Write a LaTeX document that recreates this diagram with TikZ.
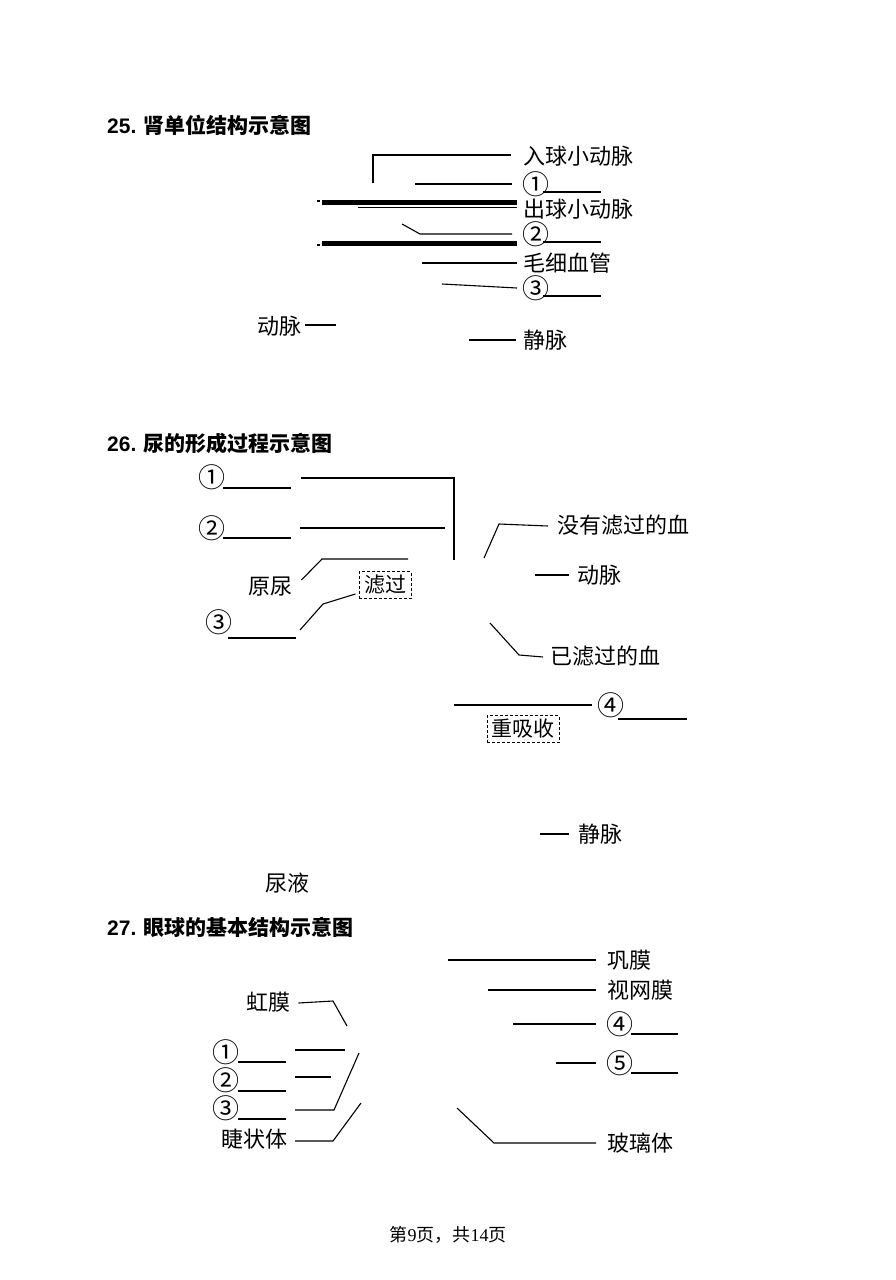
\documentclass[tikz,border=0pt]{standalone}
\usepackage{fontspec}
\setmainfont{Liberation Serif}
\newfontfamily\cjk{Noto Sans CJK SC}
\newfontfamily\hd{Liberation Sans}
\begin{document}
\begin{tikzpicture}[x=1pt,y=-1pt,
  lbl/.style={anchor=west,inner sep=0pt,font=\cjk\fontsize{22}{22}\selectfont},
  dig/.style={anchor=west,inner sep=0pt,font=\cjk\fontsize{27}{27}\selectfont},
  ttl/.style={anchor=west,inner sep=0pt,font=\cjk\bfseries\fontsize{21}{21}\selectfont},
  ln/.style={line width=1.1pt},
  bar/.style={line width=5pt},
  dbox/.style={draw,dashed,dash pattern=on 3pt off 2pt,line width=0.9pt,inner sep=0pt,
    font=\cjk\fontsize{21}{21}\selectfont},
  foot/.style={inner sep=0pt,font=\cjk\fontsize{18}{18}\selectfont}]
\useasboundingbox (0,0) rectangle (895,1280);
\fill[white] (0,0) rectangle (895,1280);

% ---------------- 25 ----------------
\node[ttl] (t25) at (107,125) {{\hd\bfseries 25}{\hd .}\hspace{7pt}肾单位结构示意图};
\node[lbl] (rq) at (523,156) {入球小动脉};
\node[dig] (a1) at (522,184) {①};
\node[lbl] (cq) at (523,209) {出球小动脉};
\node[dig] (a2) at (522,234) {②};
\node[lbl] (mx) at (523,263) {毛细血管};
\node[dig] (a3) at (522,288) {③};
\node[lbl] (dm) at (257,326) {动脉};
\node[lbl] (jm) at (523,340) {静脉};
\coordinate (rqs) at (373,183);
\coordinate (a1s) at (415,184);
\coordinate (cqs) at (358,207.5);
\coordinate (a2s) at (402,224);
\coordinate (a2k) at (420,234);
\coordinate (mxs) at (422,263);
\coordinate (a3s) at (442,284);
\coordinate (jms) at (469,340);
\draw[ln] (rqs) |- ([xshift=-12pt,yshift=1pt]rq.west);
\draw[ln] (a1s) -- ([xshift=-10pt]a1.west);
\draw[ln] (cqs) -- ([xshift=-6pt,yshift=1.5pt]cq.west);
\draw[ln] (a2s) -- (a2k) -- ([xshift=-10pt]a2.west);
\draw[ln] (mxs) -- ([xshift=-6pt]mx.west);
\draw[ln] (a3s) -- ([xshift=-5pt]a3.west);
\draw[ln] ([xshift=4pt,yshift=1pt]dm.east) -- ++(31pt,0);
\draw[ln] (jms) -- ([xshift=-7pt]jm.west);
\draw[ln] ([xshift=-6pt]a1.east |- 0,192) -- ++(58pt,0);
\draw[ln] ([xshift=-6pt]a2.east |- 0,242) -- ++(58pt,0);
\draw[ln] ([xshift=-6pt]a3.east |- 0,296) -- ++(58pt,0);
\draw[bar] (322,202) -- (517,202);
\draw[bar] (322,243) -- (517,243);
\fill (317,199.5) rectangle (320,201.5);
\fill (317,244) rectangle (320,246);

% ---------------- 26 ----------------
\node[ttl] (t26) at (107,443) {{\hd\bfseries 26}{\hd .}\hspace{7pt}尿的形成过程示意图};
\node[dig] (b1) at (198,477) {①};
\node[dig] (b2) at (198,528) {②};
\node[lbl] (yn) at (248,587) {原尿};
\node[dbox,minimum width=52pt,minimum height=27pt] (lg) at (385,585) {滤过};
\node[dig] (b3) at (205,622) {③};
\node[lbl] (mylg) at (557,525) {没有滤过的血};
\node[lbl] (dm2) at (577,575) {动脉};
\node[lbl] (ylg) at (550,656) {已滤过的血};
\node[dig] (b4) at (597,705) {④};
\node[dbox,minimum width=72pt,minimum height=27pt] (cxs) at (523,729) {重吸收};
\node[lbl] (jm2) at (578,834) {静脉};
\node[lbl] (ny) at (265,883) {尿液};
\coordinate (k1) at (301,478);
\coordinate (k1e) at (454,560);
\coordinate (k2) at (300,528);
\coordinate (k2e) at (445,528);
\coordinate (ynk) at (322,559);
\coordinate (yne) at (408,559);
\coordinate (b3s) at (300,630);
\coordinate (b3k) at (323,604);
\coordinate (myk) at (499,524);
\coordinate (mys) at (484,558);
\coordinate (yls) at (490,623);
\coordinate (ylk) at (519,655);
\coordinate (b4s) at (454,705);
\draw[ln] ([xshift=-2pt]b1.east |- 0,488) -- ++(68pt,0);
\draw[ln] ([xshift=-2pt]b2.east |- 0,538) -- ++(68pt,0);
\draw[ln] ([xshift=-4pt]b3.east |- 0,638) -- ++(68pt,0);
\draw[ln] (k1) -| (k1e);
\draw[ln] (k2) -- (k2e);
\draw[ln] ([shift={(9pt,7pt)}]yn.east) -- (ynk) -- (yne);
\draw[ln] (b3s) -- (b3k) -- ([shift={(-3pt,5pt)}]lg.south west);
\draw[ln] (mys) -- (myk) -- ([xshift=-9pt,yshift=-1pt]mylg.west);
\draw[ln] ([xshift=-42pt]dm2.west) -- ([xshift=-8pt]dm2.west);
\draw[ln] (yls) -- (ylk) -- ([xshift=-7pt,yshift=-1pt]ylg.west);
\draw[ln] (b4s) -- ([xshift=-5pt]b4.west);
\draw[ln] ([xshift=-6pt]b4.east |- 0,719) -- ++(69pt,0);
\draw[ln] ([xshift=-38pt]jm2.west) -- ([xshift=-9pt]jm2.west);

% ---------------- 27 ----------------
\node[ttl] (t27) at (107,927) {{\hd\bfseries 27}{\hd .}\hspace{7pt}眼球的基本结构示意图};
\node[lbl] (gm) at (607,960) {巩膜};
\node[lbl] (swm) at (607,990) {视网膜};
\node[dig] (e4) at (606,1024) {④};
\node[dig] (e5) at (606,1063) {⑤};
\node[lbl] (blt) at (607,1143) {玻璃体};
\node[lbl] (hm) at (246,1002) {虹膜};
\node[dig] (e1) at (212,1052) {①};
\node[dig] (e2) at (212,1080) {②};
\node[dig] (e3) at (212,1108) {③};
\node[lbl] (jzt) at (221,1139) {睫状体};
\coordinate (gms) at (448,960);
\coordinate (swms) at (488,990);
\coordinate (e4s) at (513,1024);
\coordinate (e5s) at (556,1063);
\coordinate (bls) at (457,1108);
\coordinate (blk) at (494,1143);
\coordinate (hmk) at (333,1001);
\coordinate (hme) at (347,1026);
\coordinate (l1s) at (295,1050);
\coordinate (l1e) at (345,1050);
\coordinate (l2s) at (295,1077);
\coordinate (l2e) at (331,1077);
\coordinate (l3s) at (295,1110);
\coordinate (l3k) at (334,1110);
\coordinate (l3e) at (359,1053);
\coordinate (jzs) at (295,1141);
\coordinate (jzk) at (333,1141);
\coordinate (jze) at (361,1103);
\draw[ln] (gms) -- ([xshift=-11pt]gm.west);
\draw[ln] (swms) -- ([xshift=-11pt]swm.west);
\draw[ln] (e4s) -- ([xshift=-10pt]e4.west);
\draw[ln] (e5s) -- ([xshift=-10pt]e5.west);
\draw[ln] (bls) -- (blk) -- ([xshift=-11pt]blt.west);
\draw[ln] ([xshift=-2pt]e4.east |- 0,1034) -- (678,1034);
\draw[ln] ([xshift=-2pt]e5.east |- 0,1073) -- (678,1073);
\draw[ln] ([xshift=8pt,yshift=-1pt]hm.east) -- (hmk) -- (hme);
\draw[ln] ([xshift=-1pt]e1.east |- 0,1062) -- (286,1062);
\draw[ln] ([xshift=-1pt]e2.east |- 0,1091) -- (286,1091);
\draw[ln] ([xshift=-1pt]e3.east |- 0,1119) -- (286,1119);
\draw[ln] (l1s) -- (l1e);
\draw[ln] (l2s) -- (l2e);
\draw[ln] (l3s) -- (l3k) -- (l3e);
\draw[ln] (jzs) -- (jzk) -- (jze);

% footer
\node[foot] (ft) at (448,1235) {第{\rmfamily 9}页，共{\rmfamily 14}页};
\end{tikzpicture}
\end{document}
